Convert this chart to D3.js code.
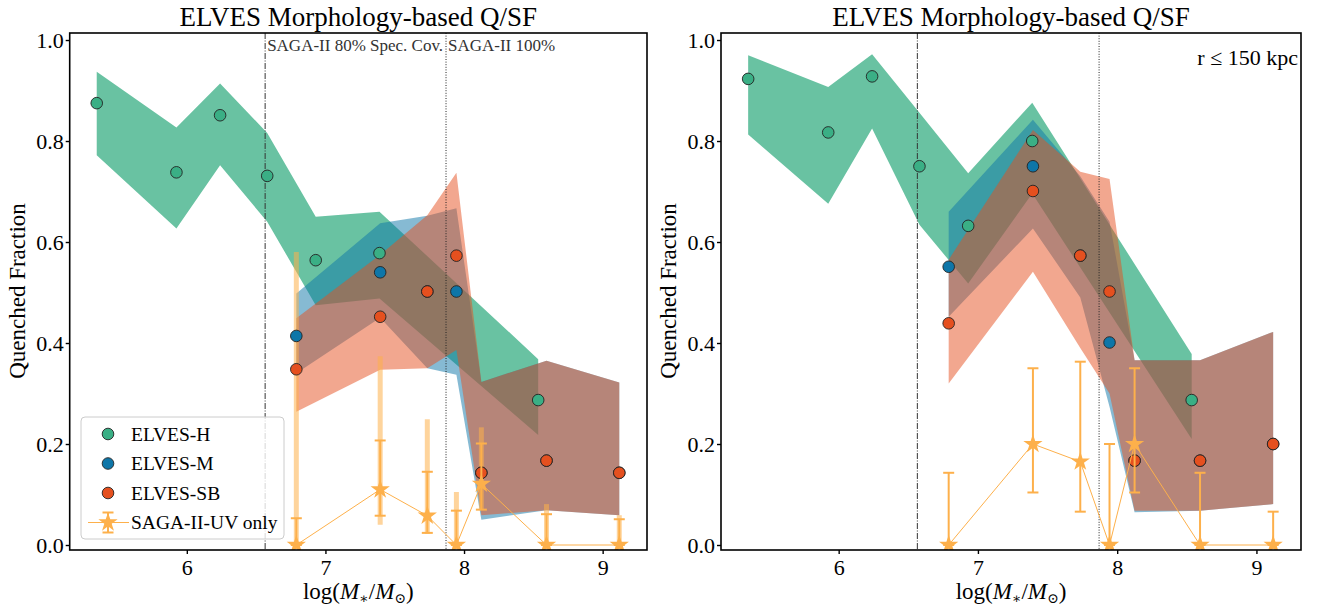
<!DOCTYPE html>
<html>
<head>
<meta charset="utf-8">
<script src="https://cdn.jsdelivr.net/npm/d3@7"></script>
<style>
  html, body { margin: 0; padding: 0; background: #fff; }
  svg { display: block; font-family: "Liberation Serif", "DejaVu Serif", serif; }
</style>
</head>
<body>
<svg id="chart" width="1320" height="610"></svg>
<script>
// ---------------- data ----------------
const xTicks = [6, 7, 8, 9];
const yTicks = [0.0, 0.2, 0.4, 0.6, 0.8, 1.0];
const seriesNames = ["ELVES-H", "ELVES-M", "ELVES-SB", "SAGA-II-UV only"];
const titleText = "ELVES Morphology-based Q/SF";

// ELVES-H (bin centres for the host sample)
const hX = [5.35, 5.925, 6.24, 6.58, 6.93, 7.39, 8.535];
// ELVES-M / ELVES-SB / SAGA share bin centres
const sX = [6.79, 7.395, 7.735, 7.945, 8.125, 8.595, 9.12];

// ---- left panel ----
const leftHMid = [0.875, 0.738, 0.851, 0.731, 0.564, 0.578, 0.287];
const leftHLo  = [0.772, 0.627, 0.752, 0.640, 0.475, 0.488, 0.218];
const leftHHi  = [0.937, 0.827, 0.914, 0.816, 0.650, 0.660, 0.368];

const leftMMid = [0.414, 0.540, 0.502, 0.502, 0.143, 0.167, 0.143];
const leftMLo  = [0.340, 0.450, 0.350, 0.337, 0.050, 0.069, 0.059];
const leftMHi  = [0.498, 0.637, 0.652, 0.667, 0.323, 0.365, 0.322];

const leftSBMid = [0.348, 0.452, 0.502, 0.573, 0.143, 0.167, 0.143];
const leftSBLo  = [0.264, 0.347, 0.350, 0.386, 0.059, 0.069, 0.059];
const leftSBHi  = [0.449, 0.575, 0.653, 0.737, 0.323, 0.365, 0.322];

const leftSagaY     = [0.000, 0.110, 0.058, 0.000, 0.121, 0.000, 0.000];
const leftSagaLo    = [0.000, 0.058, 0.024, 0.000, 0.070, 0.000, 0.000];
const leftSagaHi    = [0.053, 0.207, 0.145, 0.068, 0.201, 0.061, 0.051];
const leftSagaAltLo = [0.000, 0.040, 0.022, 0.000, 0.070, 0.000, 0.000];
const leftSagaAltHi = [0.580, 0.374, 0.249, 0.105, 0.233, 0.081, 0.059];

// ---- right panel (r <= 150 kpc) ----
const rightHMid = [0.923, 0.817, 0.928, 0.750, 0.632, 0.800, 0.287];
const rightHLo  = [0.813, 0.676, 0.825, 0.634, 0.518, 0.696, 0.210];
const rightHHi  = [0.970, 0.907, 0.972, 0.856, 0.736, 0.876, 0.378];

const rightMMid = [0.551, 0.750, 0.573, 0.401, 0.167, 0.167, 0.200];
const rightMLo  = [0.452, 0.627, 0.490, 0.274, 0.065, 0.068, 0.081];
const rightMHi  = [0.660, 0.842, 0.730, 0.640, 0.366, 0.366, 0.422];

const rightSBMid = [0.439, 0.701, 0.573, 0.502, 0.167, 0.167, 0.200];
const rightSBLo  = [0.320, 0.541, 0.390, 0.300, 0.068, 0.068, 0.081];
const rightSBHi  = [0.565, 0.822, 0.739, 0.725, 0.366, 0.366, 0.422];

const rightSagaY  = [0.000, 0.200, 0.165, 0.000, 0.200, 0.000, 0.000];
const rightSagaLo = [0.000, 0.104, 0.066, 0.000, 0.104, 0.000, 0.000];
const rightSagaHi = [0.143, 0.350, 0.363, 0.200, 0.350, 0.143, 0.066];

// reference lines
const specCov80 = 6.565;
const specCov100 = 7.87;

// ---------------- drawing ----------------
const colH = "#3aaf85", colM = "#0e76a8", colSB = "#e5501f", colSaga = "#fdb04b";
const svg = d3.select("#chart");

const yDomain = [-0.0099, 1.0139];
const xDomain = [5.155, 9.32];

function zip(xs, a, b, c) { return xs.map((x, i) => ({x, mid: a[i], lo: b ? b[i] : null, hi: c ? c[i] : null})); }

function panel(opts) {
  const g = svg.append("g");
  const x = d3.scaleLinear().domain(xDomain).range([opts.x0, opts.x1]);
  const y = d3.scaleLinear().domain(yDomain).range([550, 33]);

  const clipId = "clip" + opts.id;
  svg.append("clipPath").attr("id", clipId).append("rect")
    .attr("x", opts.x0).attr("y", 33).attr("width", opts.x1 - opts.x0).attr("height", 517);
  const plot = g.append("g").attr("clip-path", `url(#${clipId})`);

  const area = d3.area().x(d => x(d.x)).y0(d => y(d.lo)).y1(d => y(d.hi));
  const bands = [
    {data: zip(hX, opts.hMid, opts.hLo, opts.hHi), c: colH, o: 0.76},
    {data: zip(sX, opts.mMid, opts.mLo, opts.mHi), c: colM, o: 0.5},
    {data: zip(sX, opts.sbMid, opts.sbLo, opts.sbHi), c: colSB, o: 0.5}
  ];
  bands.forEach(b => plot.append("path").datum(b.data).attr("d", area)
    .attr("fill", b.c).attr("fill-opacity", b.o).attr("stroke", "none"));

  // vertical reference lines
  plot.append("line").attr("x1", x(specCov80)).attr("x2", x(specCov80)).attr("y1", 33).attr("y2", 550)
    .attr("stroke", "#333").attr("stroke-width", 1).attr("stroke-dasharray", "6,1.5,1,1.5");
  plot.append("line").attr("x1", x(specCov100)).attr("x2", x(specCov100)).attr("y1", 33).attr("y2", 550)
    .attr("stroke", "#222").attr("stroke-width", 1).attr("stroke-dasharray", "1,1.6");

  // light (alternate) error bars
  if (opts.altLo) {
    sX.forEach((xv, i) => {
      plot.append("line").attr("x1", x(xv)).attr("x2", x(xv))
        .attr("y1", y(opts.altLo[i])).attr("y2", y(opts.altHi[i]))
        .attr("stroke", colSaga).attr("stroke-opacity", 0.55).attr("stroke-width", 5);
    });
  }

  // points
  const pts = [
    {data: zip(hX, opts.hMid), c: colH},
    {data: zip(sX, opts.mMid), c: colM},
    {data: zip(sX, opts.sbMid), c: colSB}
  ];
  pts.forEach(p => plot.append("g").selectAll("circle").data(p.data).join("circle")
    .attr("cx", d => x(d.x)).attr("cy", d => y(d.mid)).attr("r", 5.8)
    .attr("fill", p.c).attr("stroke", "#222").attr("stroke-width", 0.9));

  // SAGA error bars, line and stars
  const sg = plot.append("g");
  sX.forEach((xv, i) => {
    const cx = x(xv);
    sg.append("line").attr("x1", cx).attr("x2", cx).attr("y1", y(opts.sagaLo[i])).attr("y2", y(opts.sagaHi[i]))
      .attr("stroke", colSaga).attr("stroke-width", 2);
    [opts.sagaLo[i], opts.sagaHi[i]].forEach(v => {
      sg.append("line").attr("x1", cx - 5.5).attr("x2", cx + 5.5).attr("y1", y(v)).attr("y2", y(v))
        .attr("stroke", colSaga).attr("stroke-width", 2);
    });
  });
  sg.append("path").datum(zip(sX, opts.sagaY))
    .attr("d", d3.line().x(d => x(d.x)).y(d => y(d.mid)))
    .attr("fill", "none").attr("stroke", colSaga).attr("stroke-width", 1);
  sg.selectAll("path.star").data(zip(sX, opts.sagaY)).join("path").attr("class", "star")
    .attr("transform", d => `translate(${x(d.x)},${y(d.mid)})`)
    .attr("d", d3.symbol(d3.symbolStar, 115)).attr("fill", colSaga);

  // frame
  g.append("rect").attr("x", opts.x0).attr("y", 33).attr("width", opts.x1 - opts.x0).attr("height", 517)
    .attr("fill", "none").attr("stroke", "#000").attr("stroke-width", 1.6);

  // axes
  const xa = g.append("g").attr("transform", "translate(0,550)")
    .call(d3.axisBottom(x).tickValues(xTicks).tickFormat(d3.format("d")).tickSize(4).tickPadding(4));
  const ya = g.append("g").attr("transform", `translate(${opts.x0},0)`)
    .call(d3.axisLeft(y).tickValues(yTicks).tickFormat(d3.format(".1f")).tickSize(4).tickPadding(2));
  [xa, ya].forEach(a => {
    a.select(".domain").remove();
    a.selectAll(".tick line").attr("stroke", "#000").attr("stroke-width", 1.4);
    a.selectAll(".tick text").attr("font-family", "Liberation Serif, serif").attr("font-size", 22).attr("fill", "#000");
  });
  xa.selectAll(".tick text").attr("dy", "0.76em");

  // title
  g.append("text").attr("x", (opts.x0 + opts.x1) / 2).attr("y", 26).attr("text-anchor", "middle")
    .attr("font-size", 27).text(titleText);

  // x label
  const xl = g.append("text").attr("x", (opts.x0 + opts.x1) / 2).attr("y", 599)
    .attr("text-anchor", "middle").attr("font-size", 23);
  xl.append("tspan").text("log(");
  xl.append("tspan").attr("font-style", "italic").text("M");
  xl.append("tspan").attr("font-size", 14).attr("dy", 4).text("∗");
  xl.append("tspan").attr("dy", -4).text("/");
  xl.append("tspan").attr("font-style", "italic").text("M");
  xl.append("tspan").attr("font-size", 14).attr("dy", 4).text("⊙");
  xl.append("tspan").attr("dy", -4).text(")");

  // y label
  g.append("text").attr("transform", `translate(${opts.x0 - 45},291) rotate(-90)`)
    .attr("text-anchor", "middle").attr("font-size", 23).text("Quenched Fraction");

  return {g, x, y};
}

const L = panel({id: "L", x0: 69.7, x1: 647,
  hMid: leftHMid, hLo: leftHLo, hHi: leftHHi,
  mMid: leftMMid, mLo: leftMLo, mHi: leftMHi,
  sbMid: leftSBMid, sbLo: leftSBLo, sbHi: leftSBHi,
  sagaY: leftSagaY, sagaLo: leftSagaLo, sagaHi: leftSagaHi,
  altLo: leftSagaAltLo, altHi: leftSagaAltHi});

const R = panel({id: "R", x0: 721, x1: 1301,
  hMid: rightHMid, hLo: rightHLo, hHi: rightHHi,
  mMid: rightMMid, mLo: rightMLo, mHi: rightMHi,
  sbMid: rightSBMid, sbLo: rightSBLo, sbHi: rightSBHi,
  sagaY: rightSagaY, sagaLo: rightSagaLo, sagaHi: rightSagaHi});

// annotations (left)
L.g.append("text").attr("x", L.x(specCov80) + 2).attr("y", 51).attr("font-size", 17).attr("fill", "#333")
  .text("SAGA-II 80% Spec.  Cov.");
L.g.append("text").attr("x", L.x(specCov100) + 2).attr("y", 51).attr("font-size", 17).attr("fill", "#333")
  .text("SAGA-II 100%");

// annotation (right)
R.g.append("text").attr("x", 1298).attr("y", 65).attr("text-anchor", "end").attr("font-size", 22)
  .text("r ≤ 150 kpc");

// legend (left panel)
const lg = L.g.append("g");
lg.append("rect").attr("x", 81).attr("y", 417).attr("width", 203).attr("height", 122).attr("rx", 4)
  .attr("fill", "#fff").attr("fill-opacity", 0.8).attr("stroke", "#ccc").attr("stroke-width", 1);
const legCols = [colH, colM, colSB];
seriesNames.forEach((name, i) => {
  const yy = 434 + i * 29.5;
  if (i < 3) {
    lg.append("circle").attr("cx", 108).attr("cy", yy).attr("r", 5.8).attr("fill", legCols[i])
      .attr("stroke", "#222").attr("stroke-width", 0.9);
  } else {
    lg.append("line").attr("x1", 88).attr("x2", 129).attr("y1", yy).attr("y2", yy)
      .attr("stroke", colSaga).attr("stroke-width", 1);
    lg.append("line").attr("x1", 108).attr("x2", 108).attr("y1", yy - 10).attr("y2", yy + 10)
      .attr("stroke", colSaga).attr("stroke-width", 2);
    [yy - 10, yy + 10].forEach(v => lg.append("line").attr("x1", 102.5).attr("x2", 113.5)
      .attr("y1", v).attr("y2", v).attr("stroke", colSaga).attr("stroke-width", 2));
    lg.append("path").attr("transform", `translate(108,${yy})`)
      .attr("d", d3.symbol(d3.symbolStar, 115)).attr("fill", colSaga);
  }
  lg.append("text").attr("x", 131).attr("y", yy + 6.5).attr("font-size", 19.5).text(name);
});
</script>
</body>
</html>
